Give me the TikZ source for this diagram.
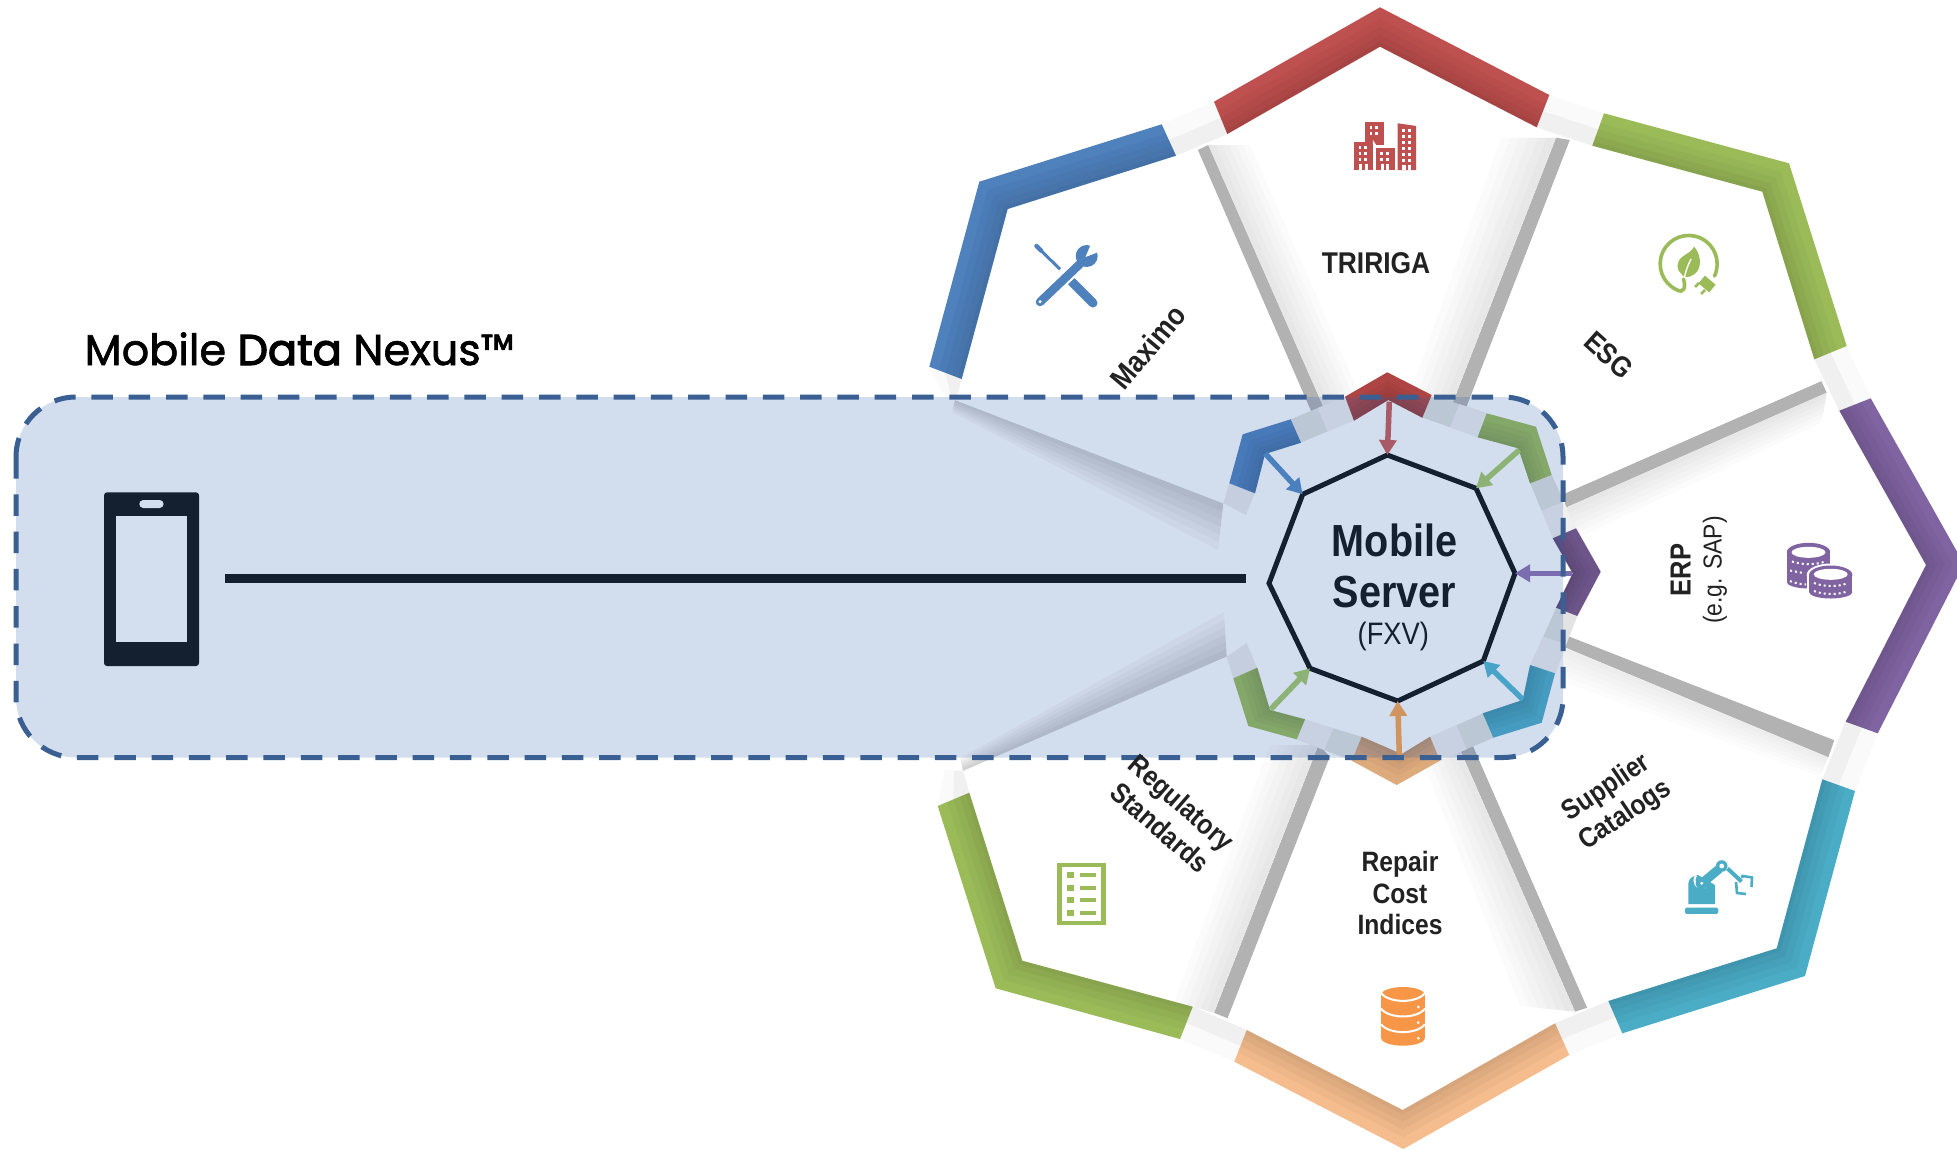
\documentclass[tikz,border=0pt]{standalone}
\usepackage{fontspec}
\usetikzlibrary{calc,arrows.meta}
\setmainfont{Liberation Sans}
\newfontfamily\lblf[FakeStretch=.88]{Liberation Sans}
\newfontfamily\titlef[FakeBold=1.5]{Poppins}
\newfontfamily\titlefb[FakeBold=3]{Poppins}
\definecolor{cred}{HTML}{BE504F}
\definecolor{cblue}{HTML}{4F81BD}
\definecolor{cgreen}{HTML}{9BBB59}
\definecolor{cpurple}{HTML}{8064A2}
\definecolor{cteal}{HTML}{4BACC6}
\definecolor{corange}{HTML}{F79646}
\definecolor{cband}{HTML}{F5BD8E}
\definecolor{corsmall}{HTML}{DDAA7C}
\definecolor{credsmall}{HTML}{AE4544}
\definecolor{navy}{HTML}{14202F}
\definecolor{tintc}{RGB}{47,95,170}
\definecolor{boxtint}{HTML}{D3DFEF}
\definecolor{dashc}{HTML}{3A5F92}
\definecolor{lbl}{HTML}{222222}
\definecolor{sliver}{HTML}{B2B2B2}
\newcommand{\softsh}[5]{\foreach \tval in {.17,.33,.5,.67,.83,1}{\fill[black,opacity=#5] (#1) -- (#2) -- ($(#2)!\tval!(#4)$) -- ($(#1)!\tval!(#3)$) -- cycle;}}
\newcommand{\bandshape}[7]{\fill[#1] (#2) -- (#3) -- (#4) -- (#7) -- (#6) -- (#5) -- cycle;
 \foreach \tval in {.3,.5,.7,.88}{\fill[black,opacity=.03] ($(#2)!\tval!(#5)$) -- ($(#3)!\tval!(#6)$) -- ($(#4)!\tval!(#7)$) -- (#7) -- (#6) -- (#5) -- cycle;}}
\newcommand{\gappatch}[4]{\fill[black!2] (#1) -- (#2) -- (#3) -- (#4) -- cycle;
 \fill[black!6] ($(#1)!.5!(#4)$) -- ($(#2)!.5!(#3)$) -- (#3) -- (#4) -- cycle;}
\newcommand{\ingap}[4]{\fill[black!11] (#1) -- (#2) -- (#3) -- (#4) -- cycle;
 \fill[black!6] ($(#1)!.5!(#2)$) -- ($(#4)!.5!(#3)$) -- (#3) -- (#2) -- cycle;}
\def\pMax{(1197.7,150) -- (1007.7,209) -- (961.7,379) -- (958,392) -- (955,400) -- (1223.3,503.3) -- (1229.3,483.3) -- (1242.7,434.3) -- (1290.7,419.3) -- (1313,416) -- cycle}
\def\pTri{(1208.3,145) -- (1380,46.7) -- (1556,137.7) -- (1451.7,405) -- (1431.7,395) -- (1387.3,372.3) -- (1345,396.7) -- (1323.3,406.7) -- cycle}
\def\pEsg{(1570,140) -- (1762.3,191.7) -- (1821.3,381) -- (1565,493.3) -- (1551.7,475) -- (1536,426.7) -- (1486.7,413.3) -- (1466.7,406.7) -- cycle}
\def\pErp{(1826.7,392.7) -- (1926,565) -- (1834.3,740) -- (1568.3,636) -- (1577.3,616) -- (1600.7,571.7) -- (1576,528.3) -- (1565,508) -- cycle}
\def\pSup{(1828.3,757.3) -- (1821.7,779.3) -- (1776.7,948.3) -- (1587.3,1007.7) -- (1472.7,745) -- (1493.3,737.7) -- (1541.7,722.7) -- (1555,673.3) -- (1563,646.7) -- cycle}
\def\pRep{(1575,1011.7) -- (1402.7,1110) -- (1227.7,1018.3) -- (1330,756.7) -- (1351.7,760.7) -- (1396.7,785) -- (1440,760.7) -- (1460,750) -- cycle}
\def\pReg{(963.3,771) -- (1022.3,960.7) -- (1214,1012.7) -- (1318.3,745) -- (1296.7,739.3) -- (1248.3,726) -- (1233.3,678.3) -- (1226.7,656.7) -- cycle}
\tikzset{
 plabel/.style={font=\lblf\bfseries\fontsize{28}{33}\selectfont,text=lbl,align=center,inner sep=0pt},
 srvlabel/.style={font=\lblf\bfseries\fontsize{45}{51.7}\selectfont,text=navy,align=center,inner sep=0pt},
 arr/.style={line width=5.5pt,-{Triangle[width=17pt,length=15pt]}},
 dots/.style={white,line width=2pt,dash pattern=on 2pt off 3pt},
}
\begin{document}
\begin{tikzpicture}[x=1pt,y=-1pt]
\useasboundingbox (0,0) rectangle (1957,1149);
\clip (0,0) rectangle (1957,1149);
\fill[white] (0,0) rectangle (1957,1149);
% shadows on the background
\softsh{955,400}{1223.3,503.3}{952,412}{1218,550}{.03}
\softsh{963,771}{1226.7,656.7}{960,758}{1224,612}{.03}
% outer gaps
\gappatch{1161.7,124.3}{1214,101.7}{1227.3,134}{1176,155.7}
\gappatch{1549.3,95}{1604,113.3}{1592.3,145.7}{1536.7,127.3}
\gappatch{1846.7,346}{1870.7,398.3}{1839.3,410.7}{1814.3,359.3}
\gappatch{1877.7,733.3}{1855,791}{1822.3,779.3}{1845.7,721.7}
\gappatch{1622.3,1033.3}{1569.3,1055}{1555,1023.3}{1608.3,1001}
\gappatch{1234.3,1061.7}{1180,1039}{1192.7,1006.7}{1246.7,1030}
\gappatch{929.3,366.7}{945,397}{958,400}{961.7,379}
\gappatch{937.7,806}{945,770}{963,771}{969.3,792.7}
% slivers
\fill[sliver] (1197.7,150) -- (1208.3,145) -- (1323.3,406.7) -- (1313,416) -- cycle;
\fill[sliver] (1556,137.7) -- (1570,140) -- (1466.7,406.7) -- (1451.7,405) -- cycle;
\fill[sliver] (1821.3,381) -- (1826.7,392.7) -- (1565,508) -- (1565,493.3) -- cycle;
\fill[sliver] (1568.3,636) -- (1834.3,740) -- (1828.3,757.3) -- (1563,646.7) -- cycle;
\fill[sliver] (1472.7,745) -- (1587.3,1007.7) -- (1575,1011.7) -- (1460,750) -- cycle;
\fill[sliver] (1330,756.7) -- (1227.7,1018.3) -- (1214,1012.7) -- (1318.3,745) -- cycle;
% petals
\fill[white] \pMax; \fill[white] \pTri; \fill[white] \pEsg; \fill[white] \pErp;
\fill[white] \pSup; \fill[white] \pRep; \fill[white] \pReg;
\begin{scope}\clip \pTri;
 \softsh{1208.3,145}{1323.3,406.7}{1250,145}{1365,406.7}{.016}
 \softsh{1556,137.7}{1451.7,405}{1501,137.7}{1406,405}{.016}
\end{scope}
\begin{scope}\clip \pErp;
 \softsh{1826.7,392.7}{1565,508}{1821.7,422.7}{1565,544}{.014}
\end{scope}
\begin{scope}\clip \pSup;
 \softsh{1563,646.7}{1828.3,757.3}{1563,681.7}{1820,777}{.01}
\end{scope}
\begin{scope}\clip \pRep;
 \softsh{1460,750}{1575,1011.7}{1420,755}{1520,1006}{.016}
\end{scope}
\begin{scope}\clip \pReg;
 \softsh{1318.3,745}{1214,1012.7}{1270,745}{1170,1012.7}{.016}
\end{scope}
% outer bands
\bandshape{cblue}{1161.7,124.3}{979.3,181.7}{929.3,366.7}{1176,155.7}{1007.7,209}{961.7,379}
\bandshape{cred}{1214,101.7}{1380,7.3}{1549.3,95}{1227.3,134}{1380,46.7}{1536.7,127.3}
\bandshape{cgreen}{1604,113.3}{1789,163.3}{1846.7,346}{1592.3,145.7}{1762.3,191.7}{1814.3,359.3}
\bandshape{cpurple}{1870.7,398.3}{1964,564}{1877.7,733.3}{1839.3,410.7}{1926,565}{1845.7,721.7}
\bandshape{cteal}{1855,791}{1805,976}{1622.3,1033.3}{1822.3,779.3}{1776.7,948.3}{1608.3,1001}
\bandshape{cband}{1569.3,1055}{1403.3,1149}{1234.3,1061.7}{1555,1023.3}{1402.7,1110}{1246.7,1030}
\bandshape{cgreen}{1180,1039}{995.7,988.3}{937.7,806}{1192.7,1006.7}{1022.3,960.7}{969.3,792.7}
% inner gaps
\ingap{1290.7,419.3}{1345,396.7}{1354,420.7}{1301,442.7}
\ingap{1431.7,395}{1486.7,413.3}{1477.7,437.3}{1422.3,417.7}
\ingap{1551.7,475}{1576,528.3}{1552.7,538.3}{1530,483.3}
\ingap{1577.3,616}{1555,673.3}{1530,665}{1556,607.7}
\ingap{1493.3,737.7}{1440,760.7}{1430,736.7}{1482.7,713.3}
\ingap{1351.7,760.7}{1296.7,739.3}{1305,719.3}{1361.7,736.7}
\fill[black!7] (1233.3,678.3) -- (1257.3,667.7) -- (1246.7,643) -- (1226.7,656.7) -- cycle;
\fill[black!7] (1229.3,483.3) -- (1255,493.3) -- (1246,515) -- (1223.3,503.3) -- cycle;
% inner area
\fill[white] (1265,454) -- (1301,442.7) -- (1354,420.7) -- (1388.3,400) -- (1422.3,417.7) -- (1477.7,437.3) -- (1518.3,448.3) -- (1530,483.3) -- (1552.7,538.3) -- (1572.7,573.3) -- (1556,607.7) -- (1530,665) -- (1522.7,700) -- (1482.7,713.3) -- (1430,736.7) -- (1401.7,754) -- (1361.7,736.7) -- (1305,719.3) -- (1270,710) -- (1257.3,667.7) -- (1246.7,643) -- (1246,515) -- (1255,493.3) -- cycle;
% inner chevrons
\bandshape{cblue}{1290.7,419.3}{1242.7,434.3}{1229.3,483.3}{1301,442.7}{1265,454}{1255,493.3}
\bandshape{credsmall}{1345,396.7}{1387.3,372.3}{1431.7,395}{1354,420.7}{1388.3,400}{1422.3,417.7}
\bandshape{cgreen}{1486.7,413.3}{1536,426.7}{1551.7,475}{1477.7,437.3}{1518.3,448.3}{1530,483.3}
\bandshape{cpurple!85!black}{1576,528.3}{1600.7,571.7}{1577.3,616}{1552.7,538.3}{1572.7,573.3}{1556,607.7}
\bandshape{cteal}{1555,673.3}{1541.7,722.7}{1493.3,737.7}{1530,665}{1522.7,700}{1482.7,713.3}
\bandshape{corsmall}{1440,760.7}{1396.7,785}{1351.7,760.7}{1430,736.7}{1401.7,754}{1361.7,736.7}
\bandshape{cgreen}{1296.7,739.3}{1248.3,726}{1233.3,678.3}{1305,719.3}{1270,710}{1257.3,667.7}
% icons: buildings
\fill[cred] (1353.9,141.7) rectangle (1372.9,170);
\fill[cred] (1375.8,147.7) rectangle (1394.7,170);
\fill[cred] (1397.7,123.3) -- (1416.2,126) -- (1416.2,170) -- (1397.7,170) -- cycle;
\fill[cred] (1364.9,121.7) rectangle (1383.8,144.5);
\fill[white] (1372.9,140) -- (1372.9,144.5) -- (1375.8,147.7) -- (1375.8,144.5) -- cycle;
\foreach \px in {1358.5,1364}{\foreach \py in {146,152,158}{\fill[white] (\px,\py) rectangle ++(2.6,2.6);}}
\foreach \px in {1369.5,1375}{\foreach \py in {126,132}{\fill[white] (\px,\py) rectangle ++(2.6,2.6);}}
\foreach \px in {1380,1386}{\foreach \py in {152,158}{\fill[white] (\px,\py) rectangle ++(2.6,2.6);}}
\foreach \px in {1402,1408}{\foreach \py in {129,135,141,147,153,159}{\fill[white] (\px,\py) rectangle ++(2.6,2.6);}}
\fill[white] (1358.5,164) rectangle (1368,170);
\fill[cred] (1362,164) rectangle (1364.5,170);
\fill[white] (1381,164) rectangle (1389,170);
\fill[cred] (1384,164) rectangle (1386,170);
\fill[white] (1402,165) rectangle (1411,170);
\fill[cred] (1405.5,165) rectangle (1407.5,170);
% icons: tools
\draw[cblue,line width=3pt] (1037.5,247) -- (1060,269.3);
\draw[cblue,line width=4.5pt,line cap=round] (1036.5,246) -- (1041,250.5);
\draw[cblue,line width=9pt,line cap=round] (1071.7,281.7) -- (1093,303);
\draw[white,line width=13pt] (1050,292) -- (1082,262);
\draw[cblue,line width=8.5pt,line cap=round] (1040,302) -- (1082,262);
\fill[cblue] (1086.7,256) circle[radius=11];
\fill[white] (1085.5,257) -- (1091,244) -- (1098.5,252) -- cycle;
\fill[white] (1040,301.7) circle[radius=1.7];
% icons: ESG
\draw[cgreen,line width=3.6pt,line cap=round] (1714.5,276) arc[start angle=25,end angle=-245,radius=28.5] .. controls (1684,294) and (1686,287) .. (1683.5,279);
\fill[cgreen] (1694.3,246.7) .. controls (1702,256) and (1703,272) .. (1690,276.5) .. controls (1686,278) and (1682,276) .. (1681.5,274) .. controls (1676,270) and (1676,262) .. (1682,257) .. controls (1686,254) and (1691,252) .. (1694.3,246.7) -- cycle;
\draw[white,line width=1.4pt] (1691,259) .. controls (1688,265) and (1686,270) .. (1684.5,277);
\fill[cgreen,rotate around={-40:(1707,284)}] (1700,279) rectangle (1714,289);
\draw[cgreen,line width=2.6pt] (1699,283) -- (1695,287);
\draw[cgreen,line width=2.6pt] (1705,290) -- (1701,294);
% icons: coins
\fill[cpurple] (1787.3,552.3) rectangle (1829.7,578) ;
\fill[cpurple] (1808.5,552.3) ellipse[x radius=21.7,y radius=9.5];
\fill[cpurple] (1787.3,570) rectangle (1830,582);
\fill[cpurple] (1808.5,582) ellipse[x radius=21.7,y radius=6.5];
\fill[white] (1808.5,552.3) ellipse[x radius=17,y radius=5.5];
\draw[dots] (1792,561.5) .. controls (1802,565) and (1816,565) .. (1825,561.5);
\draw[dots] (1790,581) .. controls (1794,583) and (1800,584) .. (1806,584.5);
\draw[dots] (1790,570.5) -- (1803,573);
\fill[white] (1830.7,575) ellipse[x radius=24,y radius=11.5];
\fill[white] (1807,575) rectangle (1854.7,592);
\fill[white] (1830.7,592) ellipse[x radius=24,y radius=8.5];
\fill[cpurple] (1809,575) rectangle (1852.4,592);
\fill[cpurple] (1830.7,575) ellipse[x radius=21.7,y radius=9.5];
\fill[cpurple] (1830.7,592) ellipse[x radius=21.7,y radius=6.5];
\fill[white] (1830.7,574.3) ellipse[x radius=17,y radius=5.5];
\draw[dots] (1814,583) .. controls (1824,587) and (1838,587) .. (1848,583);
\draw[dots] (1814,591) .. controls (1824,595) and (1838,595) .. (1848,591);
% icons: robot
\fill[cteal,rounded corners=1.5pt] (1685,907.7) rectangle (1718.3,913.8);
\fill[cteal] (1688.3,904) -- (1688.3,884) .. controls (1688.3,879) and (1692,876) .. (1698,875) -- (1715,885) -- (1715,904) -- cycle;
\draw[white,line width=2pt] (1696,875.5) .. controls (1692,882) and (1696,890) .. (1706,887);
\draw[cteal,line width=9pt] (1701,884) -- (1719,869);
\fill[cteal] (1701.7,883.3) circle[radius=6];
\fill[white] (1701.7,883.3) circle[radius=1.6];
\fill[cteal] (1721.7,866) circle[radius=5.8];
\fill[white] (1721.7,866) circle[radius=2.4];
\draw[cteal,line width=4pt] (1727.5,868.5) -- (1741.5,881.5);
\draw[cteal,line width=2.6pt] (1741,877) -- (1743,876.5) -- (1743,876) -- (1752,877.5) -- (1751.5,887);
\draw[cteal,line width=2.6pt] (1736,882) -- (1737,893) -- (1746,894);
% icons: database
\fill[corange] (1381,995) rectangle (1425,1038);
\fill[corange] (1403,995) ellipse[x radius=22,y radius=8];
\fill[corange] (1403,1038) ellipse[x radius=22,y radius=7.7];
\foreach \dy in {0,15.6,31.2}{\draw[white,line width=2pt] (1381,993+\dy) .. controls (1389,1003.5+\dy) and (1417,1003.5+\dy) .. (1425,993+\dy);
 \fill[white] (1418.3,1007+\dy) circle[radius=1.5];}
% icons: list
\fill[cgreen] (1057.3,862.7) rectangle (1105.7,925);
\fill[white] (1062,867.3) rectangle (1101.3,920.7);
\foreach \ly in {875,887.7,900,912.7}{\fill[cgreen] (1067.3,\ly-3) rectangle (1074,\ly+3);
 \fill[cgreen] (1080,\ly-2) rectangle (1096,\ly+2);}
% nexus tint
\fill[tintc,opacity=.21,rounded corners=60pt] (16,397) rectangle (1563,757.5);
% phone
\node[fill=navy,rounded corners=3pt,minimum width=95pt,minimum height=173.7pt,inner sep=0pt] (phone) at (151.5,579.2) {};
\fill[boxtint] (116,515.7) rectangle (187,642.3);
\fill[boxtint,rounded corners=4pt] (139.3,500) rectangle (163.6,508);
% server octagon
\coordinate (o1) at (1387.3,455);
\coordinate (o2) at (1476,488.3);
\coordinate (o3) at (1515,573.3);
\coordinate (o4) at (1483.3,661);
\coordinate (o5) at (1397.7,701);
\coordinate (o6) at (1310,668.3);
\coordinate (o7) at (1269,583.3);
\coordinate (o8) at (1302.7,494.3);
\draw[navy,line width=5pt,line join=miter] (o1) -- (o2) -- (o3) -- (o4) -- (o5) -- (o6) -- (o7) -- (o8) -- cycle;
% connector
\coordinate (lineA) at (225.4,578);
\coordinate (lineB) at (1246,578);
\draw[navy,line width=9pt] (lineA) -- (lineB);
% arrows
\coordinate (aRed) at (1389.3,401.7);
\coordinate (aBlue) at (1265,453.3);
\coordinate (aGreen) at (1519.3,450);
\coordinate (aPurple) at (1571.7,573.3);
\coordinate (aTeal) at (1522.7,699.3);
\coordinate (aOrange) at (1399.3,755);
\coordinate (aGreenB) at (1270.7,709.3);
\draw[arr,color={rgb,255:red,168;green,90;blue,102}] (aRed) -- (o1);
\draw[arr,color={rgb,255:red,74;green,128;blue,190}] (aBlue) -- (o8);
\draw[arr,color={rgb,255:red,141;green,178;blue,118}] (aGreen) -- (o2);
\draw[arr,color={rgb,255:red,122;green,108;blue,174}] (aPurple) -- (o3);
\draw[arr,color={rgb,255:red,72;green,163;blue,200}] (aTeal) -- (o4);
\draw[arr,color={rgb,255:red,208;green,149;blue,95}] (aOrange) -- (o5);
\draw[arr,color={rgb,255:red,141;green,178;blue,118}] (aGreenB) -- (o6);
% dashed outline
\draw[dashc,line width=5pt,dash pattern=on 21.5pt off 15.8pt,rounded corners=60pt] (16,397) rectangle (1563,757.5);
% text
\node[anchor=base west,inner sep=0pt,text=black,font=\titlef\fontsize{43}{50}\selectfont] (title) at (84.5,365) {Mobile {\titlefb Data} Nexus™};
\node[srvlabel] (server) at (1394.5,566) {Mobile\\Server};
\node[inner sep=0pt,text=navy,font=\lblf\fontsize{31}{36}\selectfont] (fxv) at (1393.3,636) {(FXV)};
\node[plabel,font=\lblf\bfseries\fontsize{30}{33}\selectfont] (trig) at (1376,263.5) {TRIRIGA};
\node[plabel,font=\lblf\bfseries\fontsize{30}{33}\selectfont,rotate=50] (maximo) at (1148,347) {Maximo};
\node[plabel,font=\lblf\bfseries\fontsize{29}{33}\selectfont,rotate=-42] (esg) at (1609,355) {ESG};
\node[plabel,font=\lblf\bfseries\fontsize{29}{33}\selectfont,rotate=90] (erp) at (1680.7,570) {ERP};
\node[inner sep=0pt,text=lbl,font=\lblf\fontsize{26}{30}\selectfont,rotate=90] (sap) at (1715,570) {(e.g. SAP)};
\node[plabel,rotate=34] (supp) at (1616,802) {Supplier\\Catalogs};
\node[plabel,font=\lblf\bfseries\fontsize{28}{31.3}\selectfont] (repair) at (1400,893) {Repair\\Cost\\Indices};
\node[plabel,rotate=-41] (reg) at (1171,815) {Regulatory\\Standards};
\end{tikzpicture}
\end{document}
